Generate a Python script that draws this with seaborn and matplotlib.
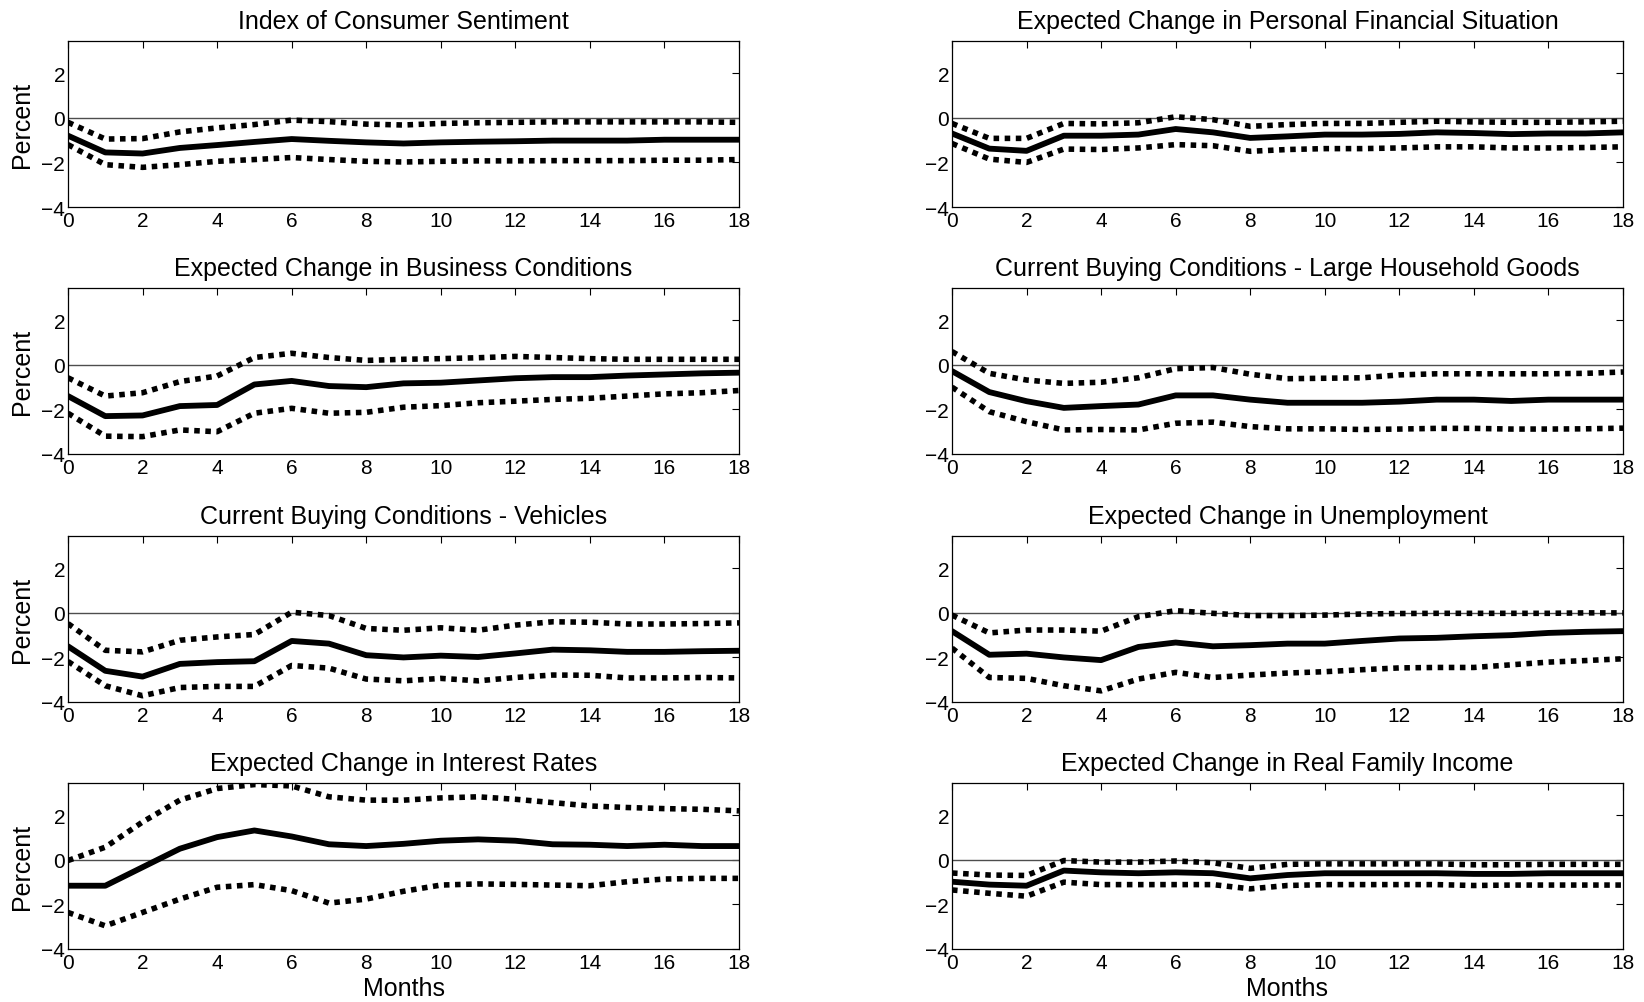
import numpy as np
import pandas as pd
import matplotlib
matplotlib.use("Agg")
import matplotlib.pyplot as plt
import seaborn as sns

months = list(range(19))

titles = [
    "Index of Consumer Sentiment",
    "Expected Change in Personal Financial Situation",
    "Expected Change in Business Conditions",
    "Current Buying Conditions - Large Household Goods",
    "Current Buying Conditions - Vehicles",
    "Expected Change in Unemployment",
    "Expected Change in Interest Rates",
    "Expected Change in Real Family Income",
]

ics_mean = [-0.8, -1.55, -1.6, -1.35, -1.22, -1.08, -0.95, -1.03, -1.1, -1.15, -1.1, -1.07, -1.05, -1.02, -1.02, -1.02, -0.98, -0.98, -0.98]
ics_upper = [-0.2, -0.95, -0.93, -0.63, -0.45, -0.3, -0.1, -0.17, -0.28, -0.32, -0.25, -0.22, -0.2, -0.18, -0.18, -0.18, -0.18, -0.18, -0.2]
ics_lower = [-1.2, -2.1, -2.22, -2.1, -1.95, -1.87, -1.78, -1.87, -1.95, -1.98, -1.95, -1.93, -1.93, -1.92, -1.92, -1.92, -1.9, -1.9, -1.87]

pfs_mean = [-0.7, -1.38, -1.48, -0.8, -0.8, -0.75, -0.5, -0.65, -0.9, -0.83, -0.75, -0.75, -0.72, -0.65, -0.68, -0.73, -0.7, -0.7, -0.65]
pfs_upper = [-0.25, -0.92, -0.92, -0.25, -0.27, -0.22, 0.05, -0.08, -0.38, -0.3, -0.25, -0.25, -0.2, -0.15, -0.18, -0.2, -0.2, -0.18, -0.15]
pfs_lower = [-1.15, -1.85, -2.0, -1.4, -1.42, -1.35, -1.2, -1.25, -1.5, -1.42, -1.38, -1.38, -1.35, -1.3, -1.3, -1.35, -1.35, -1.33, -1.3]

bus_mean = [-1.4, -2.3, -2.27, -1.85, -1.8, -0.88, -0.72, -0.95, -1.0, -0.83, -0.8, -0.7, -0.6, -0.55, -0.55, -0.48, -0.43, -0.38, -0.35]
bus_upper = [-0.58, -1.4, -1.25, -0.75, -0.5, 0.33, 0.52, 0.33, 0.2, 0.25, 0.28, 0.32, 0.38, 0.33, 0.28, 0.25, 0.25, 0.25, 0.25]
bus_lower = [-2.17, -3.2, -3.22, -2.92, -3.0, -2.17, -1.95, -2.17, -2.13, -1.9, -1.83, -1.7, -1.63, -1.55, -1.5, -1.4, -1.3, -1.25, -1.15]

hh_mean = [-0.28, -1.22, -1.63, -1.93, -1.85, -1.78, -1.37, -1.37, -1.56, -1.7, -1.7, -1.7, -1.65, -1.56, -1.56, -1.62, -1.56, -1.56, -1.56]
hh_upper = [0.6, -0.38, -0.68, -0.83, -0.78, -0.58, -0.17, -0.12, -0.42, -0.62, -0.6, -0.58, -0.45, -0.4, -0.4, -0.4, -0.4, -0.38, -0.32]
hh_lower = [-1.0, -2.1, -2.55, -2.92, -2.9, -2.92, -2.62, -2.57, -2.77, -2.87, -2.87, -2.9, -2.88, -2.85, -2.85, -2.88, -2.88, -2.87, -2.84]

veh_mean = [-1.5, -2.6, -2.86, -2.29, -2.21, -2.17, -1.26, -1.38, -1.9, -2.0, -1.92, -1.98, -1.82, -1.65, -1.68, -1.75, -1.75, -1.72, -1.7]
veh_upper = [-0.48, -1.68, -1.75, -1.23, -1.08, -0.97, 0.03, -0.12, -0.7, -0.78, -0.67, -0.78, -0.55, -0.4, -0.42, -0.5, -0.5, -0.48, -0.45]
veh_lower = [-2.18, -3.27, -3.72, -3.35, -3.3, -3.3, -2.36, -2.48, -2.97, -3.05, -2.94, -3.05, -2.9, -2.79, -2.8, -2.92, -2.92, -2.9, -2.92]

unemp_mean = [-0.82, -1.88, -1.83, -2.0, -2.12, -1.53, -1.33, -1.5, -1.45, -1.38, -1.38, -1.26, -1.15, -1.12, -1.05, -1.0, -0.9, -0.85, -0.82]
unemp_upper = [-0.1, -0.9, -0.77, -0.77, -0.82, -0.17, 0.1, -0.02, -0.12, -0.12, -0.1, -0.05, -0.03, -0.02, -0.02, -0.02, -0.02, 0.0, 0.0]
unemp_lower = [-1.58, -2.9, -2.94, -3.27, -3.5, -2.97, -2.67, -2.9, -2.79, -2.7, -2.64, -2.55, -2.47, -2.45, -2.45, -2.33, -2.21, -2.14, -2.06]

rate_mean = [-1.16, -1.16, -0.33, 0.5, 1.02, 1.32, 1.05, 0.7, 0.62, 0.72, 0.86, 0.92, 0.86, 0.7, 0.68, 0.62, 0.68, 0.62, 0.62]
rate_upper = [-0.03, 0.57, 1.7, 2.68, 3.2, 3.38, 3.32, 2.83, 2.68, 2.68, 2.78, 2.83, 2.72, 2.57, 2.42, 2.35, 2.3, 2.27, 2.2]
rate_lower = [-2.36, -2.96, -2.36, -1.76, -1.23, -1.11, -1.38, -1.94, -1.76, -1.41, -1.13, -1.08, -1.1, -1.13, -1.16, -0.98, -0.86, -0.83, -0.83]

inc_mean = [-0.98, -1.11, -1.16, -0.48, -0.56, -0.6, -0.56, -0.6, -0.83, -0.68, -0.6, -0.6, -0.6, -0.6, -0.63, -0.63, -0.6, -0.6, -0.6]
inc_upper = [-0.59, -0.68, -0.7, -0.03, -0.1, -0.1, -0.05, -0.13, -0.38, -0.2, -0.18, -0.18, -0.18, -0.18, -0.22, -0.22, -0.2, -0.2, -0.2]
inc_lower = [-1.35, -1.5, -1.63, -1.0, -1.11, -1.11, -1.11, -1.11, -1.3, -1.15, -1.11, -1.11, -1.11, -1.11, -1.15, -1.13, -1.13, -1.13, -1.13]

x_ticks = [0, 2, 4, 6, 8, 10, 12, 14, 16, 18]
y_ticks = [-4, -2, 0, 2]

series = [
    (ics_mean, ics_upper, ics_lower),
    (pfs_mean, pfs_upper, pfs_lower),
    (bus_mean, bus_upper, bus_lower),
    (hh_mean, hh_upper, hh_lower),
    (veh_mean, veh_upper, veh_lower),
    (unemp_mean, unemp_upper, unemp_lower),
    (rate_mean, rate_upper, rate_lower),
    (inc_mean, inc_upper, inc_lower),
]

sns.set_style("white")
plt.rcParams['font.family'] = ['Liberation Sans', 'DejaVu Sans']
plt.rcParams['text.color'] = 'black'
plt.rcParams['axes.labelcolor'] = 'black'
plt.rcParams['xtick.color'] = 'black'
plt.rcParams['ytick.color'] = 'black'

W, H = 1644, 1003
fig = plt.figure(figsize=(W / 100, H / 100), dpi=100)
fig.patch.set_facecolor("white")

col_left = [68, 952]
ax_w = 671
row_top = [42, 289, 537, 784]
ax_h = 166

for i, (title, (m, up, lo)) in enumerate(zip(titles, series)):
    r, c = divmod(i, 2)
    ax = fig.add_axes([col_left[c] / W, 1 - (row_top[r] + ax_h) / H, ax_w / W, ax_h / H])
    ax.axhline(0, color="0.3", lw=1.0, zorder=1)
    df = pd.DataFrame({"Months": months, "mean": m, "upper": up, "lower": lo})
    sns.lineplot(data=df, x="Months", y="upper", ax=ax, color="black", lw=4.0,
                 linestyle=(0, (1, 1)), zorder=3)
    sns.lineplot(data=df, x="Months", y="lower", ax=ax, color="black", lw=4.0,
                 linestyle=(0, (1, 1)), zorder=3)
    sns.lineplot(data=df, x="Months", y="mean", ax=ax, color="black", lw=4.2, zorder=4)
    ax.set_xlim(0, 18)
    ax.set_ylim(-4, 3.45)
    ax.set_xticks(x_ticks)
    ax.set_yticks(y_ticks)
    ax.tick_params(direction="in", length=5, width=0.8, top=True, right=True,
                   labelsize=15, color="black", labelcolor="black", pad=3)
    ax.tick_params(axis="y", pad=2)
    for s in ax.spines.values():
        s.set_visible(True)
        s.set_color("black")
        s.set_linewidth(0.9)
    ax.set_title(title, fontsize=18, pad=9, color="black")
    if c == 0:
        ax.set_ylabel("Percent", fontsize=18, color="black")
        ax.yaxis.set_label_coords(-0.05, 0.5)
    else:
        ax.set_ylabel("")
    if r == 3:
        ax.set_xlabel("Months", fontsize=18, color="black")
        ax.xaxis.set_label_coords(0.5, -0.16)
    else:
        ax.set_xlabel("")

fig.savefig("out.png", dpi=100, facecolor="white")
